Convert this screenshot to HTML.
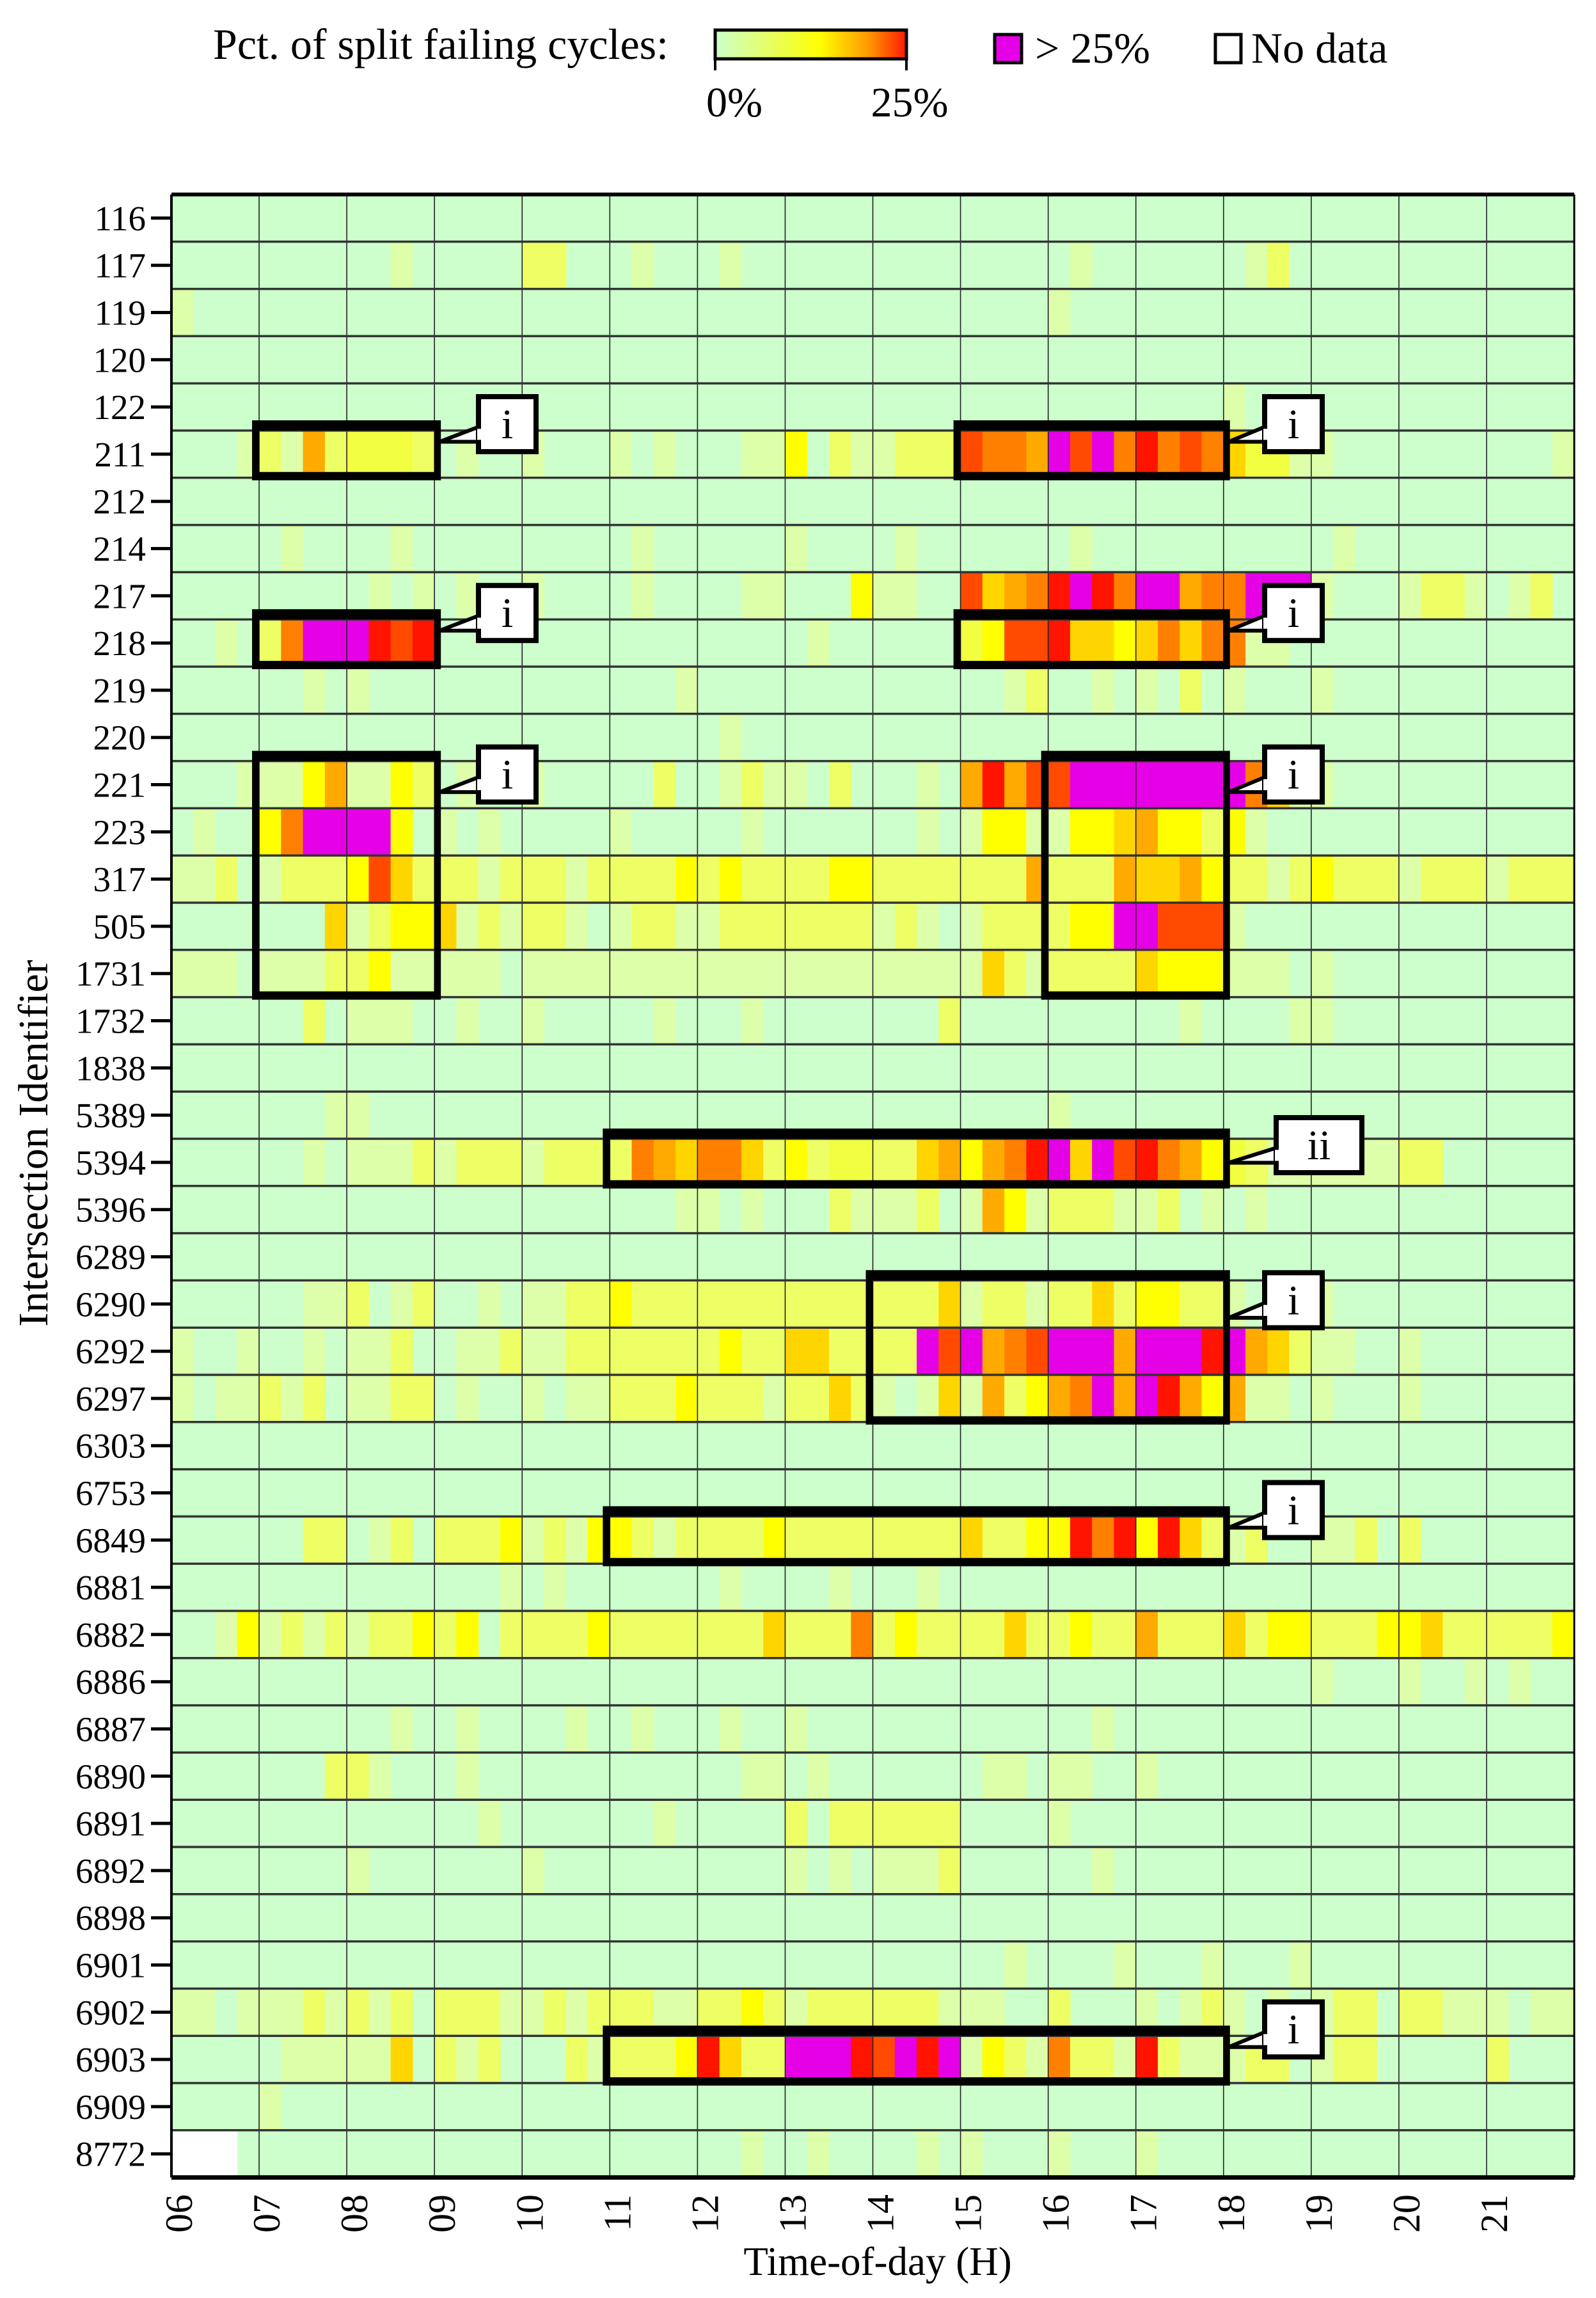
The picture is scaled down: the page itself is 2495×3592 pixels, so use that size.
<!DOCTYPE html>
<html><head><meta charset="utf-8"><style>
html,body{margin:0;padding:0;background:#fff;}
svg{display:block;}
text{font-family:"Liberation Serif",serif;fill:#000;}
</style></head><body>
<svg id="s" xmlns="http://www.w3.org/2000/svg" width="2495" height="3592" viewBox="0 0 2495 3592">
<defs>
<linearGradient id="cb" x1="0" x2="1" y1="0" y2="0">
<stop offset="0" stop-color="#ccffcc"/><stop offset="0.55" stop-color="#ffff00"/><stop offset="0.8" stop-color="#ff9900"/><stop offset="1" stop-color="#ff1a00"/>
</linearGradient>
</defs>
<rect width="2495" height="3592" fill="#fff"/>
<text x="333" y="92" font-size="68">Pct. of split failing cycles:</text>
<rect x="1118" y="47" width="299" height="45" fill="url(#cb)" stroke="#000" stroke-width="5"/>
<line x1="1118" y1="90" x2="1118" y2="110" stroke="#000" stroke-width="4"/>
<line x1="1417" y1="90" x2="1417" y2="110" stroke="#000" stroke-width="4"/>
<text x="1148" y="182" font-size="66" text-anchor="middle">0%</text>
<text x="1422" y="182" font-size="66" text-anchor="middle">25%</text>
<rect x="1555" y="54" width="42" height="44" fill="#e600e6" stroke="#000" stroke-width="5"/>
<text x="1618" y="98" font-size="68">&gt; 25%</text>
<rect x="1900" y="54" width="40" height="44" fill="#fff" stroke="#000" stroke-width="5"/>
<text x="1956" y="98" font-size="68">No data</text>
<g id="heat"></g>
<g id="grid"></g>
<g id="ann"></g>
<g id="lab"></g>
<text x="1372" y="3556" font-size="63" text-anchor="middle">Time-of-day (H)</text>
<text transform="translate(74,1787) rotate(-90)" font-size="66" text-anchor="middle">Intersection Identifier</text>
</svg>
<script>
var NS="http://www.w3.org/2000/svg";
function el(p,t,a,txt){var e=document.createElementNS(NS,t);for(var k in a)e.setAttribute(k,a[k]);if(txt!==undefined)e.textContent=txt;p.appendChild(e);return e;}
var X0=268,X1=2461,Y0=304,RH=73.8,CW=(X1-X0)/64;
var ids=["116","117","119","120","122","211","212","214","217","218","219","220","221","223","317","505","1731","1732","1838","5389","5394","5396","6289","6290","6292","6297","6303","6753","6849","6881","6882","6886","6887","6890","6891","6892","6898","6901","6902","6903","6909","8772"];
var rows={
"117":".... .... ..a. .... bb.. .a.. .a.. .... .... .... .a.. .... .ab. .... .... ....",
"119":"a... .... .... .... .... .... .... .... .... .... a... .... .... .... .... ....",
"122":".... .... .... .... .... .... .... .... .... .... .... .... a... .... .... ....",
"211":"...a baob yyyb .a.. a... a.a. ..aa Y.ba abbb rOOo mrmO ROrO gyya a... .... ...a",
"214":".... .a.. ..a. .... .... .a.. .... a... .a.. .... .a.. .... .... .a.. .... ....",
"217":".... .... .a.a .a.. a... .a.. ..aa ...Y aa.. rgoO RmRO mmoO Ommm a... abba .ab.",
"218":"..a. bOmm mRrR .... .... .... .... .a.. .... yYrr RggY gOgO Oaa. .... .... ....",
"219":".... ..a. a... .... .... ...a .... .... .... ..ab ..a. a.b. a... a... .... ....",
"220":".... .... .... .... .... .... .a.. .... .... .... .... .... .... .... .... ....",
"221":"...a aaYo aaYb .a.. a... ..b. .aba a.b. ..a. oRor rmmm mmmm mOga a... .... ....",
"223":".a.. YOmm mmY. a.a. .... a... ..a. .... ..a. aYYa aYYg oYYb Ya.. .... .... ....",
"317":"aab. abbb Yrgb bbab bbab bbbY bYbb bbYY bbbb bbbo bbbo ggoY bbab Ybbb abbb abbb",
"505":".... ...g abYY gaba bba. abba abbb bbbb aba. abbb bYYm mrrr a... .... .... ....",
"1731":"aaa. aaab bYaa aaa. aaaa aaaa aaaa aaaa aaaa agba bbbb gYYY aaa. a... .... ....",
"1732":".... ..b. aaa. .a.. a... ..a. ..a. .... ...b .... .... ..a. ...a a... .... ....",
"5389":".... ...a a... .... .... .... .... .... .... .... a... .... .... .... .... ....",
"5394":".... ..a. aaab abbb abbb bOog OOgb Ybyy bbgo YoOR mgmr ROoY ybaa aaaa bb.. ....",
"5396":".... .... .... .... .... ...a a.a. ..ba aab. aoYa bbba ab.a .a.. .... .... ....",
"6290":".... ..aa b.ab ..a. aabb Ybbb bbbb bbbb bbbg abba bbgb YYbb a... a... .... ....",
"6292":"a..a ..a. aab. .aab aabb bbbb bYbb ggbb bbmr moOr mmmo mmmR mogb aa.. a... ....",
"6297":"a.aa bab. aabb .a.. a.aa bbbY bbba bbgb a.ag aobY oOmo mRoY oaa. a... a... ....",
"6849":".... ..bb .ab. bbbY abaY Ybab bbbY bbbb bbbb gbbY YROR YRgb ab.. aab. b... ....",
"6881":".... .... .... ...a .a.. .... .a.. ..a. ..a. .... .... .... .... .... .... ....",
"6882":"..aY abab abbY bY.b bbbY bbbb bbbg bbbO bYbb bbgb bYbb obbb gbYY bbbY Ygbb bbbY",
"6886":".... .... .... .... .... .... .... .... .... .... .... .... .... a... a..a .a..",
"6887":".... .... ..a. .a.. ..a. .a.. .a.. a... .... .... ..a. .... .... .... .... ....",
"6890":".... ...b ba.. .a.. .... .... ..aa .a.. .... .aa. aa.. a... .... .... .... ....",
"6891":".... .... .... ..a. .... ..a. .... b.bb bbbb .... a... .... .... .... .... ....",
"6892":".... .... a... .... a... .... .... a.a. aaab .... ..a. .... .... .... .... ....",
"6901":".... .... .... .... .... .... .... .... .... ..a. ...a ...a ...a .... .... ....",
"6902":"aa.a aaba bab. bbba abab bbaa bbYb abbb bbba aa.. b... a.ab a.a. abb. bbaa a.aa",
"6903":".... .aaa aag. bab. ..ba bbbY Rgbb mmmR rmRm aYba Obba Rbaa abb. abb. .... b...",
"6909":".... a... .... .... .... .... .... .... .... .... .... .... .... .... .... ....",
"8772":"www. .... .... .... .... .... ..a. .a.. ..a. a... a... a... .... .... .... ...."
};
var C={'.':'#ccffcc','a':'#ddffaa','b':'#eeff66','y':'#f2ff40','Y':'#ffff00','g':'#ffd500','o':'#ffaa00','O':'#ff8000','r':'#ff4a00','R':'#ff1400','m':'#e600e6','w':'#ffffff'};
var heat=document.getElementById('heat'),grid=document.getElementById('grid'),ann=document.getElementById('ann'),lab=document.getElementById('lab');
el(heat,'rect',{x:X0,y:Y0,width:X1-X0,height:RH*42,fill:'#ccffcc'});
ids.forEach(function(id,r){
  var s=(rows[id]||"").replace(/ /g,'');
  var y=Y0+r*RH;
  for(var c=0;c<s.length;c++){var ch=s[c];if(ch==='.')continue;
    el(heat,'rect',{x:(X0+c*CW).toFixed(2),y:y.toFixed(2),width:(CW+0.6).toFixed(2),height:RH.toFixed(2),fill:C[ch]});}
  el(lab,'text',{x:228,y:(y+RH/2+19).toFixed(1),'font-size':55,'text-anchor':'end'},id);
  el(lab,'line',{x1:236,x2:268,y1:(y+RH/2).toFixed(1),y2:(y+RH/2).toFixed(1),stroke:'#000','stroke-width':5});
});
for(var h=1;h<16;h++){var x=X0+h*4*CW;el(grid,'line',{x1:x,x2:x,y1:Y0,y2:Y0+42*RH,stroke:'#222','stroke-width':1.6});}
for(var r=1;r<42;r++){var y=Y0+r*RH;el(grid,'line',{x1:X0,x2:X1,y1:y,y2:y,stroke:'#333','stroke-width':3.5});}
el(grid,'line',{x1:X0,x2:X1,y1:Y0,y2:Y0,stroke:'#000','stroke-width':6});
el(grid,'line',{x1:X0,x2:X1,y1:Y0+42*RH,y2:Y0+42*RH,stroke:'#000','stroke-width':7});
el(grid,'line',{x1:X0,x2:X0,y1:Y0,y2:Y0+42*RH,stroke:'#000','stroke-width':4});
el(grid,'line',{x1:X1,x2:X1,y1:Y0,y2:Y0+42*RH,stroke:'#000','stroke-width':3});
for(var h=0;h<16;h++){var x=X0+h*4*CW+12;var t=(h+6<10?'0':'')+(h+6);
  el(lab,'text',{transform:'translate('+(x+20).toFixed(1)+',3430) rotate(-90)','font-size':60,'text-anchor':'end'},t);}
var boxes=[[5,5,7,9,'i',-37],[5,5,15,18,'i',-37],[9,9,7,9,'i',-37],[9,9,15,18,'i',-37],
[12,16,7,9,'i',-6],[12,16,16,18,'i',-6],[20,20,11,18,'ii',-17],[23,25,14,18,'i',4],[28,28,11,18,'i',-37],[39,39,11,18,'i',-37]];
boxes.forEach(function(b){
  var x0=X0+(b[2]-6)*4*CW,x1=X0+(b[3]-6)*4*CW,y0=Y0+b[0]*RH,y1=Y0+(b[1]+1)*RH;
  var ox0=x0-11,ox1=x1+10,oy0=y0-16,oy1=y1+4,ix0=x0,ix1=x1,iy0=y0,iy1=y1-9;
  el(ann,'path',{d:'M'+ox0+','+oy0+'H'+ox1+'V'+oy1+'H'+ox0+'Z M'+ix0+','+iy0+'V'+iy1+'H'+ix1+'V'+iy0+'Z',fill:'#000','fill-rule':'evenodd'});
  var cw=b[4]=='ii'?134:90,ch=86;
  var cl=(b[3]==9)?748:(b[4]=='ii'?1995:1977);
  var ct=oy0+b[5];
  el(ann,'polygon',{points:cl+','+(ct+0.55*ch)+' '+(ox1-2)+','+(ct+0.82*ch)+' '+cl+','+(ct+0.82*ch),fill:'#fff',stroke:'#000','stroke-width':6,'stroke-linejoin':'miter'});
  el(ann,'rect',{x:cl,y:ct,width:cw,height:ch,fill:'#fff',stroke:'#000','stroke-width':8});
  el(ann,'rect',{x:cl-2,y:ct+0.55*ch+3,width:8,height:0.27*ch-6,fill:'#fff'});
  el(ann,'text',{x:cl+cw/2,y:ct+ch/2+22,'font-size':66,'text-anchor':'middle'},b[4]);
});
</script>
</body></html>
